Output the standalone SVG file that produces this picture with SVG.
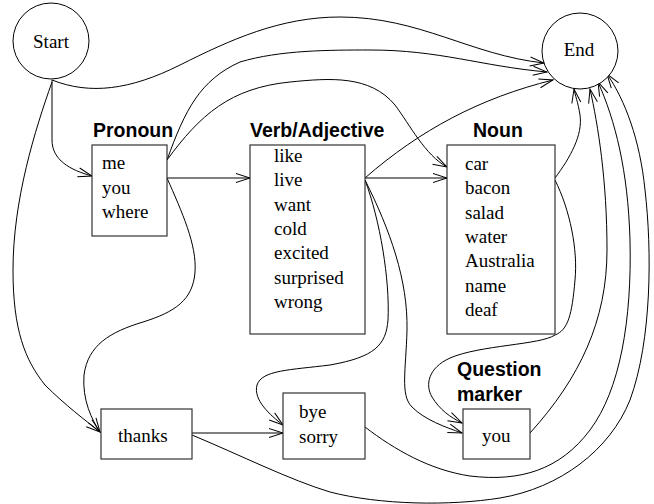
<svg xmlns="http://www.w3.org/2000/svg" width="654" height="504" viewBox="0 0 654 504">
<style>
.bg{fill:#fff}
.box{fill:#fff;stroke:#333;stroke-width:1.2}
.circ{fill:#fff;stroke:#000;stroke-width:1}
.t{font-family:"Liberation Serif","Times New Roman",serif;font-size:19px;fill:#000}
.h{font-family:"Liberation Sans",Arial,sans-serif;font-size:19.5px;font-weight:bold;fill:#000}
.e{fill:none;stroke:#000;stroke-width:1;marker-end:url(#arr)}
</style>
<defs>
<marker id="arr" viewBox="-15 -6 16 12" markerWidth="16" markerHeight="12" refX="0" refY="0" markerUnits="userSpaceOnUse" orient="auto">
<path d="M-14,-4.5 L0,0 L-14,4.5" fill="none" stroke="#000" stroke-width="1"/>
</marker>
</defs>
<rect class="bg" x="0" y="0" width="654" height="504"/>
<g id="connectors">
<path class="e" d="M52,80 C90,95 130,90 180,65 C230,40 280,17 340,17 C420,17 470,55 544,63"/>
<path class="e" d="M167,160 C185,110 200,80 240,62 C280,50 330,50 370,50 C440,50 480,66 547,72"/>
<path class="e" d="M167,160 C200,115 230,88 290,82 C330,78 370,75 395,105 C410,125 425,155 447,167"/>
<path class="e" d="M365,178 C420,130 480,98 553,80"/>
<path class="e" d="M52,80 L52,140 C52,160 70,170 92,176"/>
<path class="e" d="M52,82 C35,130 13,200 13,270 C13,330 25,360 45,385 C65,405 85,420 100,432"/>
<path class="e" d="M167,178 C182,212 197,245 195,272 C193,300 175,312 143,322 C110,332 88,345 84,375 C82,400 92,420 100,432"/>
<path class="e" d="M167,178 L250,178"/>
<path class="e" d="M365,178 L447,178"/>
<path class="e" d="M365,180 C380,220 390,280 388,320 C386,345 375,357 330,365 C290,370 262,370 257,385 C253,400 270,415 283,425"/>
<path class="e" d="M365,180 C390,230 408,280 407,330 C406,370 400,395 412,407 C425,420 445,427 462,433"/>
<path class="e" d="M555,178 C570,158 583,135 580,115 C578,102 575,95 574,89"/>
<path class="e" d="M555,180 C570,210 578,250 575,280 C572,315 568,330 555,335 C540,345 480,345 450,358 C428,368 425,385 432,397 C440,410 450,417 462,423"/>
<path class="e" d="M530,433 C580,378 607,320 607,250 C607,180 598,125 590,89"/>
<path class="e" d="M192,433 L283,433"/>
<path class="e" d="M365,427 C395,450 430,470 470,476 C520,482 560,470 590,430 C620,390 632,320 630,240 C628,170 615,120 598,82"/>
<path class="e" d="M192,435 C240,455 290,480 330,492 C380,505 450,506 500,498 C560,488 610,450 630,400 C652,340 652,250 645,190 C640,140 625,100 607,74"/>
</g>
<g id="start">
<circle class="circ" cx="51" cy="41" r="38"/>
<text class="t" x="51" y="48" text-anchor="middle">Start</text>
</g>
<g id="end">
<circle class="circ" cx="580" cy="51" r="38"/>
<text class="t" x="579" y="56" text-anchor="middle">End</text>
</g>
<g id="pronoun">
<text class="h" x="93" y="137">Pronoun</text>
<rect class="box" x="92" y="145" width="75" height="91"/>
<text class="t" x="102" y="169">me</text>
<text class="t" x="102" y="193.5">you</text>
<text class="t" x="102" y="218">where</text>
</g>
<g id="verb">
<text class="h" x="250" y="137">Verb/Adjective</text>
<rect class="box" x="250" y="145" width="115" height="189"/>
<text class="t" x="274" y="162">like</text>
<text class="t" x="274" y="186.3">live</text>
<text class="t" x="274" y="210.6">want</text>
<text class="t" x="274" y="234.9">cold</text>
<text class="t" x="274" y="259.2">excited</text>
<text class="t" x="274" y="283.5">surprised</text>
<text class="t" x="274" y="307.8">wrong</text>
</g>
<g id="noun">
<text class="h" x="473" y="137">Noun</text>
<rect class="box" x="447" y="145" width="108" height="189"/>
<text class="t" x="465" y="170">car</text>
<text class="t" x="465" y="194.3">bacon</text>
<text class="t" x="465" y="218.6">salad</text>
<text class="t" x="465" y="242.9">water</text>
<text class="t" x="465" y="267.2">Australia</text>
<text class="t" x="465" y="291.5">name</text>
<text class="t" x="465" y="315.8">deaf</text>
</g>
<g id="thanks">
<rect class="box" x="101" y="409" width="91" height="50"/>
<text class="t" x="118" y="442">thanks</text>
</g>
<g id="byesorry">
<rect class="box" x="283" y="393" width="82" height="66"/>
<text class="t" x="299" y="418">bye</text>
<text class="t" x="299" y="443">sorry</text>
</g>
<g id="question">
<text class="h" x="457" y="376">Question</text>
<text class="h" x="457" y="401">marker</text>
<rect class="box" x="463" y="409" width="67" height="50"/>
<text class="t" x="482" y="442">you</text>
</g>
</svg>
